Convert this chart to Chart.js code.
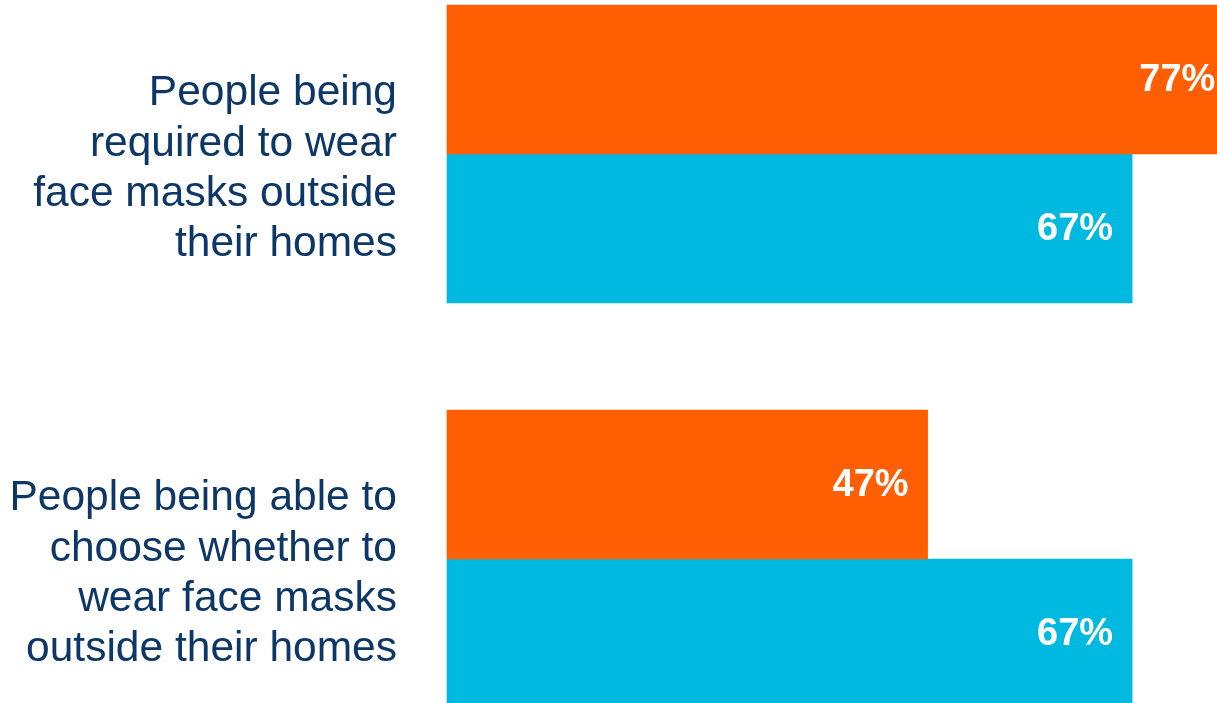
<!DOCTYPE html>
<html>
<head>
<meta charset="utf-8">
<script src="https://cdn.jsdelivr.net/npm/chart.js@4"></script>
<style>
    html, body { margin: 0; padding: 0; background: #fff; }
    #wrap { width: 1217px; height: 703px; position: relative; overflow: hidden; }
</style>
</head>
<body>
<div id="wrap"><canvas id="maskChart"></canvas></div>
<script>
// カテゴリ（複数行ラベル）
const categories = [
    ['People being', 'required to wear', 'face masks outside', 'their homes'],
    ['People being able to', 'choose whether to', 'wear face masks', 'outside their homes']
];
// 系列データ（%）
const orangeValues = [77, 47];
const blueValues = [67, 67];

const FONT = '"Liberation Sans", Arial, sans-serif';

// バー端の内側に値ラベルを描く
const valueLabels = {
    id: 'valueLabels',
    afterDatasetsDraw(chart) {
        const ctx = chart.ctx;
        ctx.save();
        ctx.font = 'bold 38px ' + FONT;
        ctx.fillStyle = '#ffffff';
        ctx.textAlign = 'right';
        ctx.textBaseline = 'middle';
        chart.data.datasets.forEach((ds, i) => {
            chart.getDatasetMeta(i).data.forEach((bar, j) => {
                ctx.fillText(ds.data[j] + '%', bar.x - 19, bar.y + 1);
            });
        });
        ctx.restore();
    }
};

const ctx = document.getElementById('maskChart').getContext('2d');
const maskChart = new Chart(ctx, {
    type: 'bar',
    data: {
        labels: categories,
        datasets: [{
            label: 'Orange',
            data: orangeValues,
            backgroundColor: '#ff5f02',
            borderWidth: 0,
            barThickness: 149,
            clip: false
        }, {
            label: 'Blue',
            data: blueValues,
            backgroundColor: '#00b9e0',
            borderWidth: 0,
            barThickness: 149,
            clip: false
        }]
    },
    options: {
        indexAxis: 'y',
        responsive: true,
        maintainAspectRatio: false,
        animation: false,
        layout: {
            padding: { top: 154, bottom: 144, left: 0, right: 0 }
        },
        plugins: {
            legend: { display: false },
            title: { display: false },
            tooltip: { enabled: false }
        },
        scales: {
            x: {
                display: false,
                min: 0,
                max: 75.3
            },
            y: {
                offset: false,
                grid: { display: false },
                border: { display: false },
                ticks: {
                    padding: 42,
                    labelOffset: 15,
                    color: '#0c3766',
                    font: { family: FONT, size: 42.5, lineHeight: 1.185 }
                },
                afterFit(scale) {
                    scale.width = 447;
                }
            }
        }
    },
    plugins: [valueLabels]
});
</script>
</body>
</html>
